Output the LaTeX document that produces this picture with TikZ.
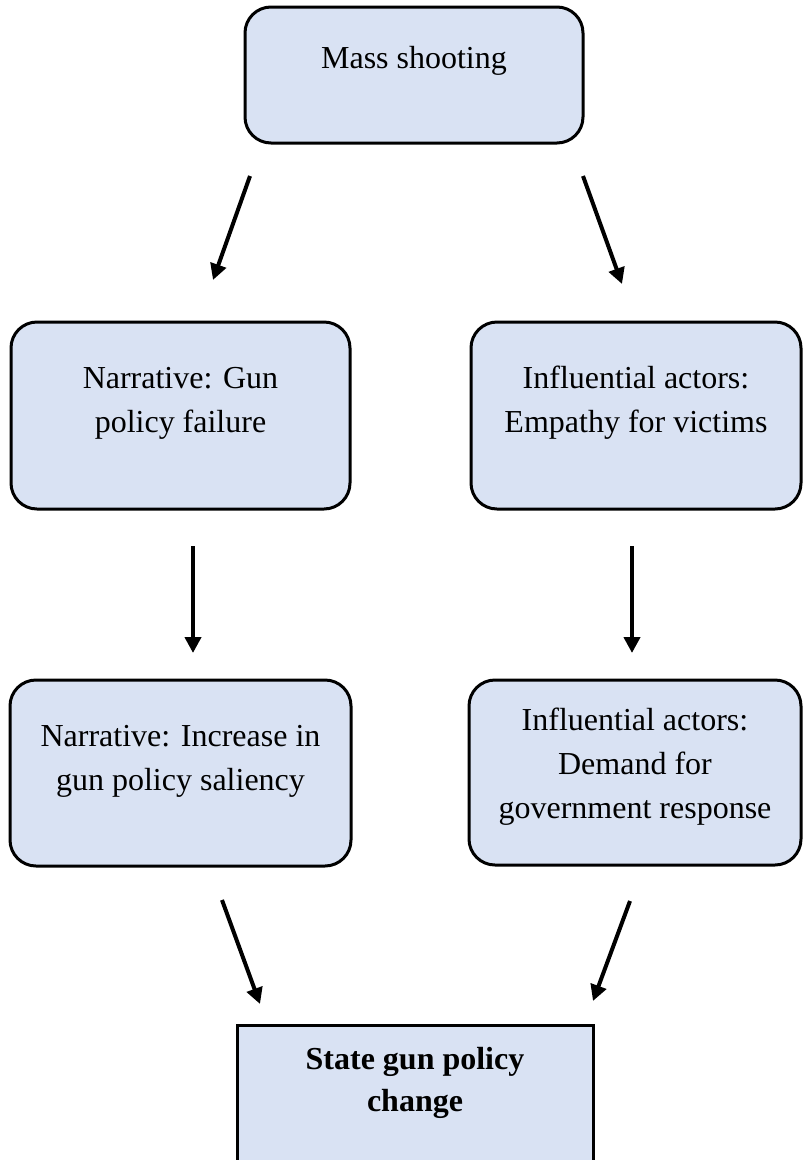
\documentclass[tikz,border=0pt]{standalone}
\usepackage{fontspec}
\setmainfont{Liberation Serif}
\usetikzlibrary{arrows.meta}
\definecolor{boxfill}{HTML}{D9E2F3}
\begin{document}
\begin{tikzpicture}[x=1pt,y=-1pt,
  rbox/.style={draw=black, line width=3pt, fill=boxfill, rounded corners=26pt, inner sep=0pt},
  sbox/.style={draw=black, line width=3pt, fill=boxfill, inner sep=0pt},
  boxtext/.style={inner sep=0pt, anchor=north, align=center, font=\fontsize{32}{44}\selectfont},
  flow/.style={line width=4pt, -{Triangle[length=16pt,width=16pt]}}
]
\useasboundingbox (0,0) rectangle (804,1160);
\clip (0,0) rectangle (804,1160);

% boxes
\node[rbox, minimum width=338pt, minimum height=136pt] (shoot) at (414,75) {};
\node[rbox, minimum width=339pt, minimum height=187pt] (fail) at (180.5,415.5) {};
\node[rbox, minimum width=330pt, minimum height=187pt] (empathy) at (636,415.5) {};
\node[rbox, minimum width=341pt, minimum height=186pt] (salience) at (180.5,773) {};
\node[rbox, minimum width=332pt, minimum height=185pt] (demand) at (635,772.5) {};
\node[sbox, minimum width=356pt, minimum height=175pt] (change) at (415,1112.5) {};

% box texts
\node[boxtext] (tshoot) at (414,37.2) {\strut Mass shooting};
\node[boxtext] (tfail) at (180.5,357.2) {\strut Narrative: Gun\\policy failure};
\node[boxtext] (tempathy) at (636,357.2) {\strut Influential actors:\\Empathy for victims};
\node[boxtext] (tsalience) at (180.5,715.2) {\strut Narrative: Increase in\\gun policy saliency};
\node[boxtext] (tdemand) at (635,699.2) {\strut Influential actors:\\Demand for\\government response};
\node[boxtext, font=\fontsize{32}{42}\selectfont\bfseries] (tchange) at (415,1039.6) {\strut State gun policy\\change};

% arrow end points
\coordinate (a1s) at (250,176);  \coordinate (a1e) at (213,280);
\coordinate (a2s) at (583,176);  \coordinate (a2e) at (622,284);
\coordinate (a3s) at (193,546);  \coordinate (a3e) at (193,653);
\coordinate (a4s) at (632,546);  \coordinate (a4e) at (632,653);
\coordinate (a5s) at (222,900);  \coordinate (a5e) at (260,1004);
\coordinate (a6s) at (630,901);  \coordinate (a6e) at (593,1001);

% arrows
\draw[flow] (a1s) -- (a1e);
\draw[flow] (a2s) -- (a2e);
\draw[flow] (a3s) -- (a3e);
\draw[flow] (a4s) -- (a4e);
\draw[flow] (a5s) -- (a5e);
\draw[flow] (a6s) -- (a6e);
\end{tikzpicture}
\end{document}
